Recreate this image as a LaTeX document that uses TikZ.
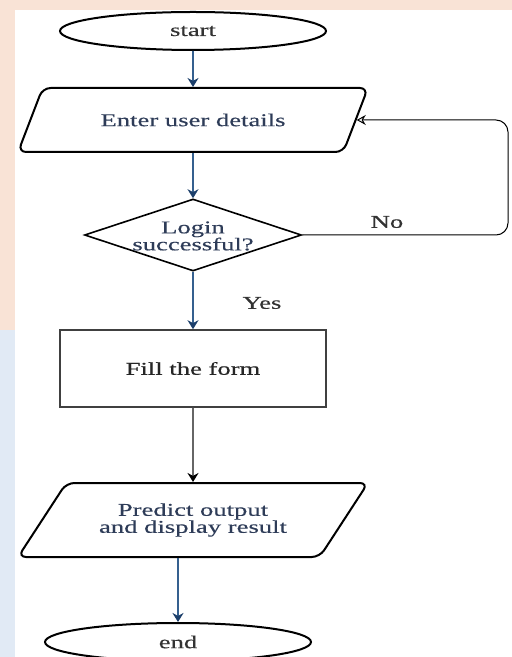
\documentclass[tikz,border=0pt]{standalone}
\usepackage{fontspec}
\setmainfont{Liberation Serif}[FakeStretch=1.48, FakeBold=0.35]
\usetikzlibrary{positioning,shapes.geometric,arrows.meta}
\definecolor{flowblue}{HTML}{35608F}
\definecolor{flowhead}{HTML}{1C3F6B}
\definecolor{flowtext}{HTML}{2E3C58}
\definecolor{wmpink}{HTML}{F9E3D6}
\definecolor{wmblue}{HTML}{E1EAF5}
\tikzset{
  figfont/.style={font=\fontsize{9}{8.5}\selectfont},
  figterm/.style={draw, ellipse, line width=1pt, minimum width=133pt, minimum height=19pt, inner sep=0pt, text=black!80},
  figio/.style={draw, trapezium, trapezium left angle=40, trapezium right angle=140, trapezium stretches=true,
    line width=1pt, rounded corners=4pt, minimum width=175pt, inner sep=0pt, align=center, text=flowtext},
  figdecision/.style={draw, diamond, line width=0.8pt, minimum width=108.5pt, minimum height=36pt, inner sep=0pt},
  figproc/.style={draw=black!75, line width=0.8pt, minimum width=133pt, minimum height=38.5pt, text=black!85},
  figlabel/.style={text=black!80},
  figarrow/.style={-{Stealth[length=4.5pt, width=5.5pt, color=flowhead]}, line width=0.9pt, draw=flowblue},
  figarrowgray/.style={-{Stealth[length=4.5pt, width=5.5pt, color=black]}, line width=0.9pt, draw=black!60},
  figloop/.style={-{Stealth[length=4.5pt, width=5pt, open]}, line width=0.5pt, draw=black, rounded corners=6pt},
}
\begin{document}
\begin{tikzpicture}[x=0.5pt, y=-0.5pt, figfont]
  % page and faint watermark strips
  \fill[white] (0,0) rectangle (512,657);
  \fill[wmpink] (0,0) rectangle (512,10);
  \fill[wmpink] (0,0) rectangle (15,330);
  \fill[wmblue] (0,330) rectangle (15,657);
  \useasboundingbox (0,0) rectangle (512,657);

  % shapes
  \node[figterm] (start) at (193,31) {start};
  \node[figio, minimum height=32pt] (enter) at (193,120) {Enter user details};
  \node[figdecision] (login) at (193,235) {};
  \node[align=center, text=flowtext] (logintxt) at (193,236) {Login\\successful?};
  \node[figproc] (form) at (193,368.5) {Fill the form};
  \node[figio, minimum height=37pt, trapezium left angle=43, trapezium right angle=137] (predict) at (193,520) {Predict output\\and display result};
  \node[figterm] (end) at (178,642) {end};

  % labels
  \node[figlabel] (nolbl) at (387,222) {No};
  \node[figlabel] (yeslbl) at (262,303) {Yes};
  \coordinate (loopc) at (508,235);

  % connectors
  \draw[figarrow] (start) -- (enter);
  \draw[figarrow] (enter) -- (login);
  \draw[figarrow] (login) -- (form);
  \draw[figarrowgray] (form) -- (predict);
  \draw[figarrow] (predict.south -| end.north) -- (end.north);
  \draw[figloop] (login.east) -| (loopc |- enter.east) -- (enter.east);
\end{tikzpicture}
\end{document}
